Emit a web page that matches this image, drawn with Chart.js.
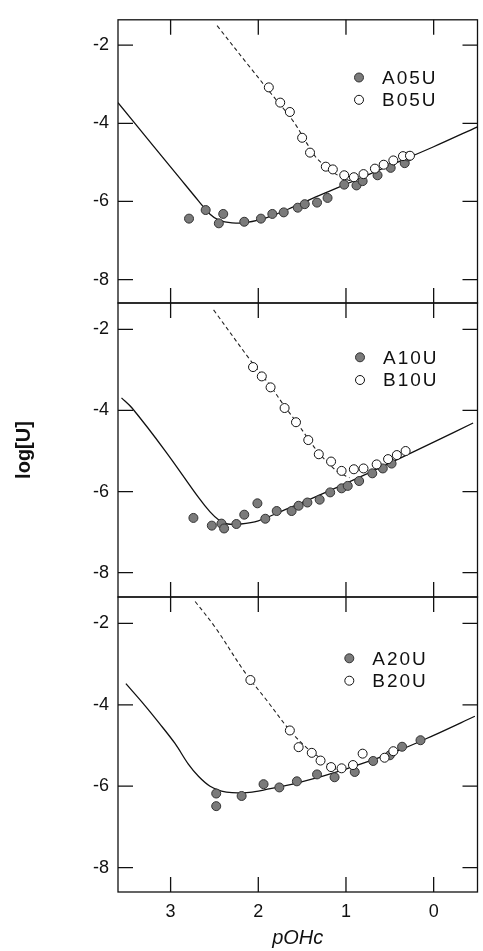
<!DOCTYPE html>
<html><head><meta charset="utf-8">
<script src="https://cdn.jsdelivr.net/npm/chart.js@4.4.1/dist/chart.umd.min.js"></script>
<style>
html,body{margin:0;padding:0;background:#fff;}
#wrap{position:relative;width:483px;height:951px;overflow:hidden;}
canvas{position:absolute;left:0;top:0;}
</style></head><body>
<div id="wrap">
<canvas id="c1" width="483" height="951"></canvas>
<canvas id="c2" width="483" height="951"></canvas>
<canvas id="c3" width="483" height="951"></canvas>
</div>
<script>
// ---- tick labels ----
const xTicks = [3, 2, 1, 0];
const yTicks = [-2, -4, -6, -8];

// ---- panel 1 ----
const A05U_x = [2.79,2.60,2.45,2.40,2.16,1.97,1.84,1.71,1.55,1.47,1.33,1.21,1.02,0.88,0.81,0.64,0.49,0.33,0.29];
const A05U_y = [-6.44,-6.22,-6.56,-6.32,-6.52,-6.44,-6.32,-6.28,-6.16,-6.07,-6.03,-5.91,-5.57,-5.59,-5.48,-5.33,-5.14,-5.02,-4.85];
const B05U_x = [1.88,1.75,1.64,1.50,1.41,1.23,1.15,1.02,0.91,0.80,0.67,0.57,0.46,0.35,0.27];
const B05U_y = [-3.08,-3.47,-3.71,-4.37,-4.75,-5.11,-5.18,-5.33,-5.38,-5.30,-5.16,-5.06,-4.95,-4.84,-4.83];
const fitA05_x = [3.6,3.2,2.9,2.68,2.55,2.45,2.3,2.15,2.0,1.8,1.6,1.4,1.2,1.0,0.5,0.0,-0.5];
const fitA05_y = [-3.47,-4.57,-5.39,-5.99,-6.33,-6.48,-6.55,-6.54,-6.48,-6.33,-6.14,-5.94,-5.75,-5.56,-5.08,-4.6,-4.09];
const fitB05_x = [2.47,2.1,1.85,1.6,1.45,1.35,1.25,1.15,1.05,0.95,0.88];
const fitB05_y = [-1.5,-2.55,-3.25,-3.95,-4.5,-4.85,-5.07,-5.25,-5.38,-5.47,-5.49];

// ---- panel 2 ----
const A10U_x = [2.74,2.53,2.42,2.39,2.25,2.16,2.01,1.92,1.79,1.62,1.54,1.44,1.30,1.18,1.05,0.98,0.85,0.70,0.58,0.48];
const A10U_y = [-6.65,-6.84,-6.79,-6.91,-6.80,-6.57,-6.29,-6.67,-6.48,-6.48,-6.35,-6.27,-6.20,-6.02,-5.92,-5.86,-5.74,-5.55,-5.43,-5.31];
const B10U_x = [2.06,1.96,1.86,1.70,1.57,1.43,1.31,1.17,1.05,0.91,0.80,0.65,0.52,0.42,0.32];
const B10U_y = [-2.93,-3.16,-3.43,-3.94,-4.29,-4.73,-5.08,-5.26,-5.49,-5.45,-5.43,-5.33,-5.20,-5.10,-5.00];
const fitA10_x = [3.56,3.44,3.06,2.68,2.55,2.45,2.35,2.2,2.0,1.7,1.4,1.0,0.5,0.0,-0.45];
const fitA10_y = [-3.69,-3.94,-5.0,-6.15,-6.5,-6.7,-6.8,-6.8,-6.72,-6.45,-6.18,-5.8,-5.3,-4.78,-4.31];
const fitB10_x = [2.51,2.06,1.86,1.7,1.57,1.43,1.31,1.2,1.1,1.0,0.96];
const fitB10_y = [-1.52,-2.85,-3.4,-3.9,-4.27,-4.7,-5.05,-5.3,-5.5,-5.62,-5.66];

// ---- panel 3 ----
const A20U_x = [2.48,2.48,2.19,1.94,1.76,1.56,1.33,1.13,0.90,0.69,0.50,0.36,0.15];
const A20U_y = [-6.18,-6.49,-6.24,-5.95,-6.03,-5.88,-5.71,-5.78,-5.65,-5.38,-5.24,-5.03,-4.87];
const B20U_x = [2.09,1.64,1.54,1.39,1.29,1.17,1.05,0.92,0.81,0.56,0.46];
const B20U_y = [-3.39,-4.63,-5.04,-5.18,-5.37,-5.53,-5.56,-5.48,-5.20,-5.30,-5.14];
const fitA20_x = [3.51,3.3,3.13,2.95,2.8,2.68,2.55,2.42,2.3,2.1,1.93,1.55,1.02,0.42,0.0,-0.47];
const fitA20_y = [-3.48,-4.0,-4.45,-4.95,-5.45,-5.76,-6.0,-6.12,-6.16,-6.15,-6.09,-5.92,-5.59,-5.14,-4.75,-4.28];
const fitB20_x = [2.72,2.49,2.15,1.9,1.64,1.45,1.3,1.2,1.1];
const fitB20_y = [-1.46,-2.10,-3.21,-3.9,-4.63,-5.05,-5.3,-5.48,-5.6];

const FONT = "'Liberation Sans', Arial, Helvetica, sans-serif";
const pts = (xs, ys) => xs.map((v, i) => ({x: v, y: ys[i]}));

const framePlugin = {
  id: 'frame',
  beforeDatasetsDraw(chart) {
    const {ctx, chartArea: a, scales: {x, y}} = chart;
    ctx.save();
    ctx.strokeStyle = '#111';
    ctx.lineWidth = 1.3;
    ctx.strokeRect(a.left, a.top, a.right - a.left, a.bottom - a.top);
    ctx.beginPath();
    xTicks.forEach(v => {
      const p = x.getPixelForValue(v);
      ctx.moveTo(p, a.bottom); ctx.lineTo(p, a.bottom - 15);
      ctx.moveTo(p, a.top); ctx.lineTo(p, a.top + 15);
    });
    yTicks.forEach(v => {
      const p = y.getPixelForValue(v);
      ctx.moveTo(a.left, p); ctx.lineTo(a.left + 15, p);
      ctx.moveTo(a.right, p); ctx.lineTo(a.right - 15, p);
    });
    ctx.stroke();
    ctx.restore();
  }
};

const legendPlugin = {
  id: 'inlegend',
  afterDatasetsDraw(chart, args, opts) {
    const {ctx, chartArea: a} = chart;
    ctx.save();
    ctx.font = '19px ' + FONT;
    ctx.fillStyle = '#111';
    ctx.textBaseline = 'middle';
    ctx.textAlign = 'left';
    try { ctx.letterSpacing = '2px'; } catch (e) {}
    chart.data.datasets.forEach(ds => {
      if (ds.legendRow === undefined) return;
      const mx = a.left + opts.dx;
      const my = a.top + opts.dy + ds.legendRow * opts.gap;
      ctx.beginPath();
      ctx.arc(mx, my, ds.pointRadius, 0, Math.PI * 2);
      ctx.fillStyle = ds.backgroundColor;
      ctx.fill();
      ctx.lineWidth = ds.borderWidth;
      ctx.strokeStyle = ds.borderColor;
      ctx.stroke();
      ctx.fillStyle = '#111';
      ctx.fillText(ds.label, mx + opts.tx, my + 1);
    });
    ctx.restore();
  }
};

function makePanel(id, cfg) {
  const datasets = [
    {label: 'fitA', data: pts(cfg.fa[0], cfg.fa[1]), showLine: true, pointRadius: 0,
     borderColor: '#111', borderWidth: 1.3, tension: 0.35, order: 3},
    {label: 'fitB', data: pts(cfg.fb[0], cfg.fb[1]), showLine: true, pointRadius: 0,
     borderColor: '#222', borderWidth: 1.1, borderDash: [4, 3], tension: 0.35, order: 2},
    {label: cfg.na, data: pts(cfg.a[0], cfg.a[1]), pointRadius: 4.5, pointHoverRadius: 4.5,
     backgroundColor: '#7b7b7b', borderColor: '#333', borderWidth: 1, legendRow: 0, order: 1},
    {label: cfg.nb, data: pts(cfg.b[0], cfg.b[1]), pointRadius: 4.5, pointHoverRadius: 4.5,
     backgroundColor: '#fff', borderColor: '#111', borderWidth: 1, legendRow: 1, order: 0}
  ];
  return new Chart(document.getElementById(id), {
    type: 'scatter',
    data: {datasets},
    options: {
      responsive: false, animation: false, devicePixelRatio: 1,
      layout: {padding: {left: 0, right: 1, top: cfg.top, bottom: cfg.bottom}},
      plugins: {legend: {display: false}, tooltip: {enabled: false},
        inlegend: cfg.leg},
      scales: {
        x: {
          type: 'linear', reverse: true, min: -0.5, max: 3.6,
          display: cfg.showX,
          grid: {display: false, drawTicks: false},
          border: {display: false},
          ticks: {stepSize: 1, includeBounds: false, color: '#111', padding: 9,
                  maxRotation: 0, font: {size: 18, family: FONT}},
          title: {display: cfg.showX, text: 'pOHc', color: '#111',
                  font: {size: 20, style: 'italic', family: FONT}, padding: {top: 0, bottom: 1}},
          afterFit: s => { s.height = cfg.showX ? 59 : 0; }
        },
        y: {
          type: 'linear', min: -8.6, max: -1.35,
          grid: {display: false, drawTicks: false},
          border: {display: false},
          ticks: {stepSize: 2, includeBounds: false, color: '#111', padding: 9,
                  font: {size: 18, family: FONT}},
          title: {display: !!cfg.yTitle, text: 'log[U]', color: '#111',
                  font: {size: 20, weight: 'bold', family: FONT}, padding: {top: 12, bottom: 0}},
          afterFit: s => { s.width = 118; }
        }
      }
    },
    plugins: [framePlugin, legendPlugin]
  });
}

makePanel('c1', {top: 5, bottom: 648, showX: false,
  a: [A05U_x, A05U_y], b: [B05U_x, B05U_y], fa: [fitA05_x, fitA05_y], fb: [fitB05_x, fitB05_y],
  na: 'A05U', nb: 'B05U', leg: {dx: 241, dy: 57.7, gap: 22.3, tx: 23}});
makePanel('c2', {top: 303, bottom: 354, showX: false, yTitle: true,
  a: [A10U_x, A10U_y], b: [B10U_x, B10U_y], fa: [fitA10_x, fitA10_y], fb: [fitB10_x, fitB10_y],
  na: 'A10U', nb: 'B10U', leg: {dx: 242, dy: 54.3, gap: 22.7, tx: 23}});
makePanel('c3', {top: 597, bottom: 0, showX: true,
  a: [A20U_x, A20U_y], b: [B20U_x, B20U_y], fa: [fitA20_x, fitA20_y], fb: [fitB20_x, fitB20_y],
  na: 'A20U', nb: 'B20U', leg: {dx: 231.3, dy: 61.3, gap: 22.4, tx: 23}});
</script>
</body></html>
